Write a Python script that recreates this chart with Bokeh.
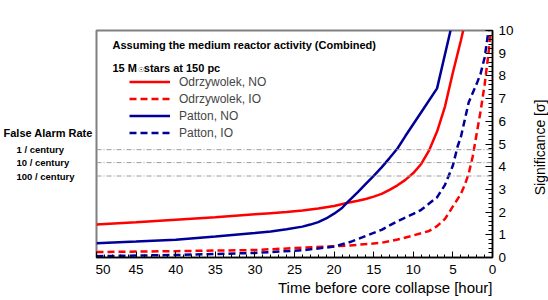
import math
from bokeh.plotting import figure
from bokeh.layouts import row
from bokeh.models import (Range1d, SingleIntervalTicker, Span, Label, Legend,
                          LegendItem, Title)
from bokeh.embed import file_html
from bokeh.resources import INLINE

# ---------------- data ----------------
odr_no_t = [50, 45, 40, 35, 30, 28, 26, 24, 22, 20, 18.4, 17, 16, 15, 14, 13, 12,
            11, 10, 9, 8, 7, 6, 5, 4, 3.7]
odr_no_v = [1.45, 1.55, 1.66, 1.77, 1.9, 1.95, 2.0, 2.07, 2.16, 2.27, 2.4, 2.5,
            2.58, 2.68, 2.8, 2.98, 3.18, 3.42, 3.72, 4.12, 4.72, 5.55, 6.65, 8.15,
            9.55, 10.0]

odr_io_t = [50, 40, 30, 24, 18, 14, 12, 10, 8, 7, 6, 5, 4, 3.5, 3, 2.5, 2, 1.5, 1, 0.5, 0.25]
odr_io_v = [0.24, 0.28, 0.33, 0.43, 0.53, 0.65, 0.79, 0.97, 1.17, 1.38, 1.7, 2.25,
            2.8, 3.2, 3.7, 4.45, 5.45, 6.45, 7.6, 9.0, 10.0]

pat_no_t = [50, 45, 40, 35, 30, 28, 26, 24, 23, 22, 21, 20, 19, 18.4, 17, 16, 15,
            14, 13, 12, 11, 9, 7, 5.3]
pat_no_v = [0.63, 0.7, 0.78, 0.92, 1.08, 1.15, 1.24, 1.36, 1.45, 1.56, 1.72, 1.93,
            2.18, 2.41, 2.88, 3.24, 3.6, 3.97, 4.38, 4.8, 5.35, 6.4, 7.45, 10.0]

pat_io_t = [50, 40, 30, 24, 20, 18, 16, 14, 12, 10, 9, 8, 7, 6, 5, 4.4, 4, 3, 2, 1.5, 1, 0.5]
pat_io_v = [0.06, 0.11, 0.2, 0.32, 0.48, 0.68, 0.95, 1.22, 1.6, 1.92, 2.1, 2.38,
            2.65, 3.2, 4.05, 4.9, 5.3, 6.84, 7.65, 8.1, 8.8, 10.0]

far_labels = ["1 / century", "10 / century", "100 / century"]
far_levels = [4.75, 4.18, 3.59]

series_labels = ["Odrzywolek, NO", "Odrzywolek, IO", "Patton, NO", "Patton, IO"]

FONT = "Liberation Sans"
RED = "#ff0000"
BLUE = "#000099"


def text_panel(width, xmax):
    f = figure(width=width, height=300, output_backend="svg", toolbar_location=None,
               x_range=Range1d(0, xmax), y_range=Range1d(0, 10),
               x_axis_location=None, y_axis_location=None,
               min_border_left=0, min_border_right=0, min_border_top=30,
               min_border_bottom=43)
    f.xgrid.visible = False
    f.ygrid.visible = False
    f.outline_line_color = None
    return f


def lab(fig, text, x, y, size, bold=False, align="left", baseline="alphabetic",
        angle=0.0):
    fig.add_layout(Label(x=x, y=y, text=text, text_font=FONT, text_font_size=size,
                         text_font_style="bold" if bold else "normal",
                         text_align=align, text_baseline=baseline, angle=angle,
                         text_color="black"))

# ---------------- left text panel ----------------
side = text_panel(95, 95)
lab(side, "False Alarm Rate", 3, 5.49, "11px", True)
for t, lev in zip(far_labels, far_levels):
    lab(side, t, 16, lev, "9.5px", True, "left", "middle")

# ---------------- right text panel (axis title) ----------------
rside = text_panel(26, 26)
lab(rside, "Significance [\u03c3]", 17, 4.85, "14px", False, "center",
    "middle", math.pi / 2)

# ---------------- main plot ----------------
p = figure(width=427, height=300, output_backend="svg", toolbar_location=None,
           x_range=Range1d(50, 0), y_range=Range1d(0, 10), y_axis_location="right",
           min_border_left=1, min_border_right=30, min_border_top=30,
           min_border_bottom=43)
p.xgrid.visible = False
p.ygrid.visible = False
p.outline_line_color = "#808080"
p.outline_line_width = 2

xa = p.xaxis[0]
xa.ticker = SingleIntervalTicker(interval=5, num_minor_ticks=5)
xa.major_tick_in = 6
xa.major_tick_out = 0
xa.minor_tick_in = 3
xa.minor_tick_out = 0
xa.major_tick_line_color = "black"
xa.minor_tick_line_color = "black"
xa.axis_line_color = "black"
xa.axis_line_width = 1.5
xa.major_label_standoff = 7
xa.major_label_text_font = FONT
xa.major_label_text_font_size = "13.5px"
xa.major_label_text_color = "black"

ya = p.yaxis[0]
ya.ticker = SingleIntervalTicker(interval=1, num_minor_ticks=5)
ya.major_tick_in = 7
ya.major_tick_out = 0
ya.minor_tick_in = 4
ya.minor_tick_out = 0
ya.major_tick_line_color = "black"
ya.minor_tick_line_color = "black"
ya.axis_line_color = "black"
ya.axis_line_width = 1.5
ya.major_label_standoff = 6
ya.major_label_text_font = FONT
ya.major_label_text_font_size = "13.5px"
ya.major_label_text_color = "black"

p.add_layout(Title(text="Time before core collapse [hour]", align="right",
                   text_font=FONT, text_font_size="15px", text_font_style="normal",
                   text_color="black", standoff=0, offset=0), "below")

# false-alarm-rate levels
for lev in far_levels:
    p.add_layout(Span(location=lev, dimension="width", line_color="#9a9a9a",
                      line_width=1, line_dash="5 2 1 2"))

r1 = p.line(odr_no_t, odr_no_v, line_color=RED, line_width=2.5)
r2 = p.line(odr_io_t, odr_io_v, line_color=RED, line_width=2.5, line_dash="7 4")
r3 = p.line(pat_no_t, pat_no_v, line_color=BLUE, line_width=2.5)
r4 = p.line(pat_io_t, pat_io_v, line_color=BLUE, line_width=2.5, line_dash="7 4")

leg = Legend(items=[LegendItem(label=l, renderers=[r]) for l, r in
                    zip(series_labels, [r1, r2, r3, r4])],
             location=(33, 116), glyph_width=41, glyph_height=17, label_height=17,
             label_standoff=9, spacing=0, padding=0, margin=0,
             border_line_alpha=0, background_fill_alpha=0,
             label_text_font=FONT, label_text_font_size="12px")
p.add_layout(leg)

lab(p, "Assuming the medium reactor activity (Combined)", 47.98, 9.36, "11px", True)
lab(p, "15 M", 47.98, 8.36, "11px", True)
lab(p, "\u2609", 44.8, 8.28, "7px", False, "left", "middle")
lab(p, "stars at 150 pc", 44.03, 8.36, "11px", True)

layout = row(side, p, rside)
open("out.html", "w").write(file_html(layout, INLINE))
